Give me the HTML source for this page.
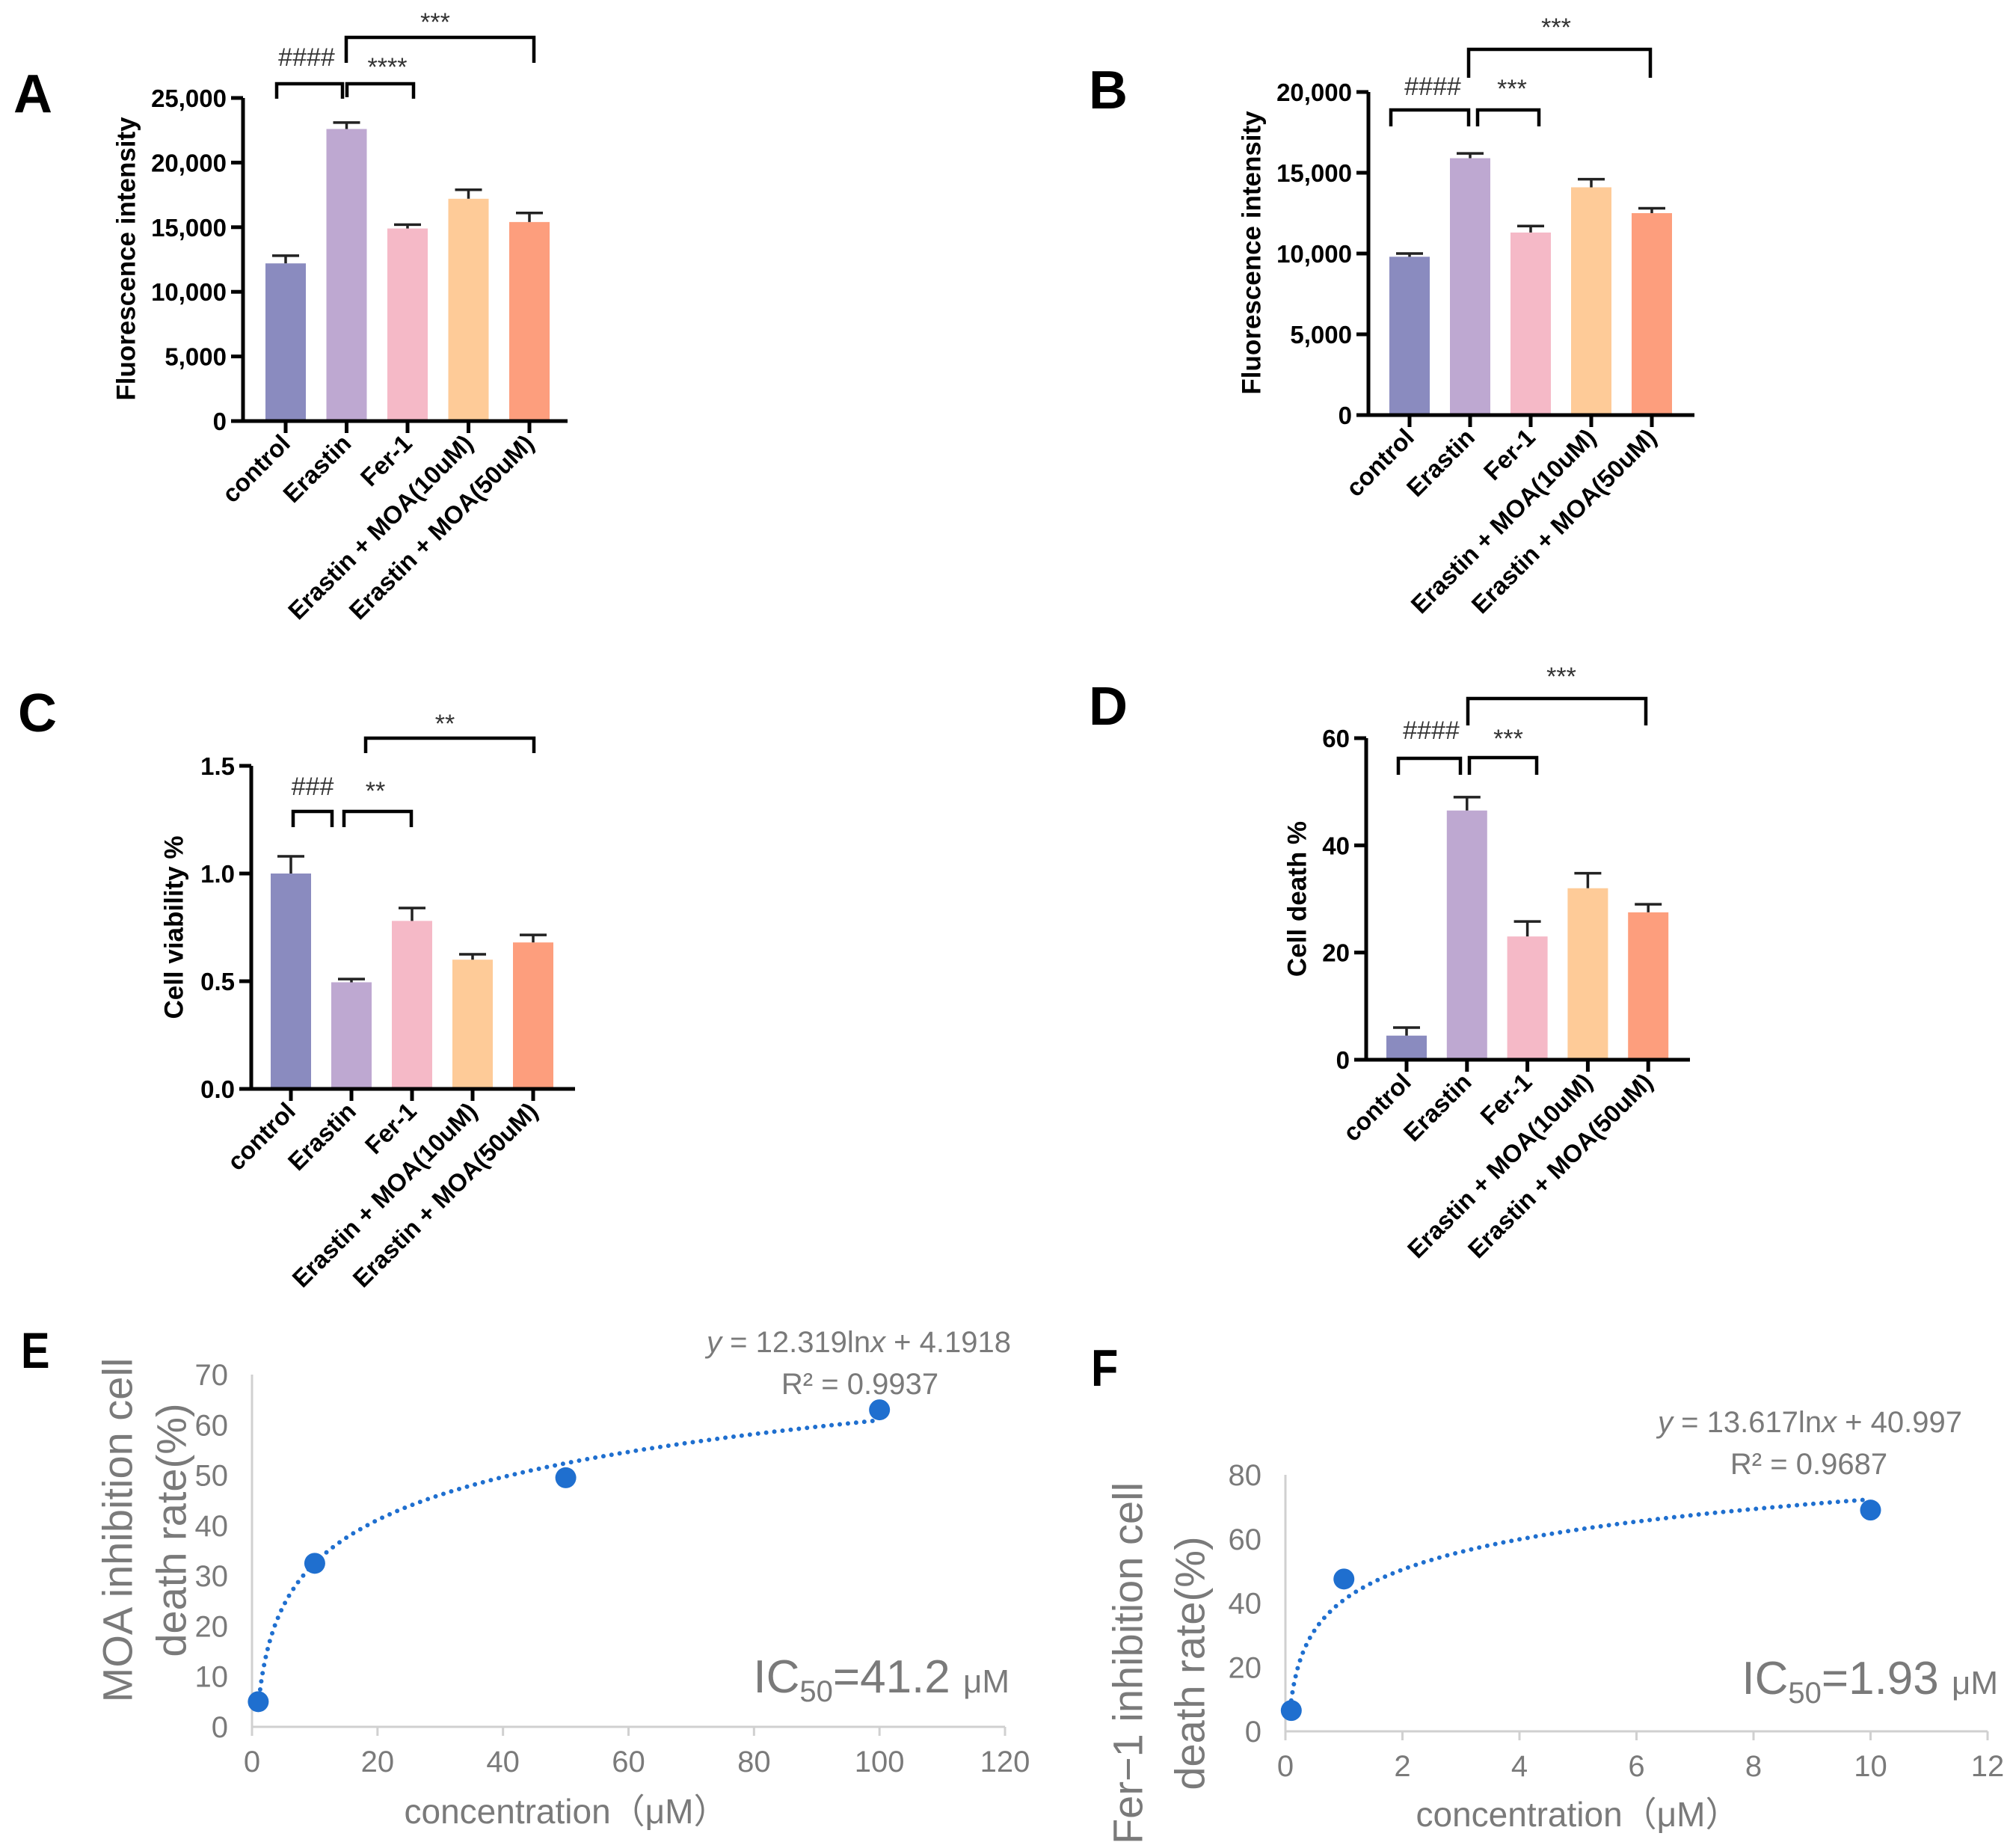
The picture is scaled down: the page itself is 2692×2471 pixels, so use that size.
<!DOCTYPE html>
<html><head><meta charset="utf-8"><style>
html,body{margin:0;padding:0;background:#fff}
svg{display:block}
.b{font-family:"Liberation Sans",Arial,sans-serif;font-weight:bold}
.g{font-family:"Liberation Sans Narrow","Liberation Sans",sans-serif;fill:#7a7a7a}
</style></head><body>
<svg id="fig" xmlns="http://www.w3.org/2000/svg" width="2692" height="2471" viewBox="0 0 2692 2471">
<rect width="2692" height="2471" fill="#fff"/>
<text class="b" x="18" y="150" font-size="72">A</text>
<text class="b" x="1456" y="145" font-size="72">B</text>
<text class="b" x="24" y="978" font-size="72">C</text>
<text class="b" x="1456" y="969" font-size="72">D</text>
<text class="b" x="28" y="1829" font-size="68" transform="scale(0.85,1)" transform-origin="28 1829">E</text>
<text class="b" x="1459" y="1853" font-size="70" transform="scale(0.85,1)" transform-origin="1459 1853">F</text>
</svg>
<script>
const cats=["control","Erastin","Fer-1","Erastin + MOA(10uM)","Erastin + MOA(50uM)"];
const barColors=["#8a8bbf","#bea8d1","#f5b9c7","#fecb98","#fd9e7d"];
const aVals=[12200,22600,14900,17200,15400];
const aErr=[12800,23100,15200,17900,16100];
const aTicks=[0,5000,10000,15000,20000,25000];
const aTickLabels=["0","5,000","10,000","15,000","20,000","25,000"];
const bVals=[9800,15900,11300,14100,12500];
const bErr=[10000,16200,11700,14600,12800];
const bTicks=[0,5000,10000,15000,20000];
const bTickLabels=["0","5,000","10,000","15,000","20,000"];
const cVals=[1.0,0.495,0.78,0.6,0.68];
const cErr=[1.08,0.51,0.84,0.625,0.715];
const cTicks=[0,0.5,1.0,1.5];
const cTickLabels=["0.0","0.5","1.0","1.5"];
const dVals=[4.5,46.5,23,32,27.5];
const dErr=[6,49,25.8,34.8,29];
const dTicks=[0,20,40,60];
const dTickLabels=["0","20","40","60"];
const eX=[1,10,50,100];
const eY=[5,32.5,49.5,63];
const eFit=[12.319,4.1918];
const eXTicks=[0,20,40,60,80,100,120];
const eYTicks=[0,10,20,30,40,50,60,70];
const fX=[0.1,1,10];
const fY=[6.5,47.5,69];
const fFit=[13.617,40.997];
const fXTicks=[0,2,4,6,8,10,12];
const fYTicks=[0,20,40,60,80];

const NS="http://www.w3.org/2000/svg";
const svg=document.getElementById('fig');
function mk(tag,attrs,parent){const e=document.createElementNS(NS,tag);for(const k in attrs)e.setAttribute(k,attrs[k]);(parent||svg).appendChild(e);return e;}

function barPanel(id,L,vals,errs,ticks,labels,title,brackets){
  const g=mk('g',{});
  
  
  const ys=v=>L.y0-(v/L.max)*(L.y0-L.yTop);
  const xs=i=>L.first+i*L.step;
  vals.forEach((v,i)=>{
    const r=mk('rect',{x:xs(i)-27,y:ys(v),width:54,height:L.y0-ys(v),fill:barColors[i]},g);
    
    
    const e=mk('path',{d:`M${xs(i)} ${ys(v)}V${ys(errs[i])}M${xs(i)-18} ${ys(errs[i])}H${xs(i)+18}`,stroke:'#222','stroke-width':3.5,fill:'none'},g);
    
    
    mk('line',{x1:xs(i),y1:L.y0,x2:xs(i),y2:L.y0+16,stroke:'#000','stroke-width':5},g);
    const lb=mk('text',{class:'b',x:xs(i)+8,y:L.y0+32,'font-size':33,'text-anchor':'end',transform:`rotate(-45 ${xs(i)+8} ${L.y0+32})`},g);
    lb.textContent=cats[i];
    
    
  });
  const ax=mk('path',{d:`M${L.ax} ${L.yTop}V${L.y0}H${L.x1}`,stroke:'#000','stroke-width':5,fill:'none'},g);
  
  
  ticks.forEach((t,i)=>{
    mk('line',{x1:L.ax-16,y1:ys(t),x2:L.ax,y2:ys(t),stroke:'#000','stroke-width':5},g);
    const tl=mk('text',{class:'b',x:L.ax-22,y:ys(t)+12,'font-size':33,'text-anchor':'end'},g);
    tl.textContent=labels[i];
    
    
  });
  const tt=mk('text',{class:'b',x:L.tx,y:L.ty,'font-size':35,'text-anchor':'middle',transform:`rotate(-90 ${L.tx} ${L.ty})`,'dominant-baseline':'central'},g);
  tt.textContent=title;
  
  
  brackets.forEach(b=>{
    const p=mk('path',{d:`M${b[0]} ${b[3]}V${b[2]}H${b[1]}V${b[4]}`,stroke:'#000','stroke-width':4.5,fill:'none'},g);
    
    
    const s=mk('text',{x:b[6],y:b[7],'font-size':34,'text-anchor':'middle','dominant-baseline':'central',fill:'#333','font-family':'"Liberation Sans",sans-serif'},g);
    s.textContent=b[5];
    
    
  });
}
barPanel('a',{ax:325,x1:759,y0:563,yTop:131,max:25000,first:382,step:81.5,tx:169,ty:346},aVals,aErr,aTicks,aTickLabels,'Fluorescence intensity',
 [[370,458,112,132,132,'####',410,77],[464,553,112,130,132,'****',518,90],[463,714,50,84,84,'***',582,30]]);
barPanel('b',{ax:1830,x1:2266,y0:555,yTop:123,max:20000,first:1885,step:81,tx:1674,ty:338},bVals,bErr,bTicks,bTickLabels,'Fluorescence intensity',
 [[1860,1964,147,169,169,'####',1916,116],[1976,2058,147,169,169,'***',2022,119],[1964,2207,66,104,104,'***',2081,37]]);
barPanel('c',{ax:336,x1:769,y0:1456,yTop:1024,max:1.5,first:389,step:81,tx:233,ty:1240},cVals,cErr,cTicks,cTickLabels,'Cell viability %',
 [[392,444,1085,1106,1106,'###',418,1052],[460,550,1085,1106,1106,'**',502,1058],[489,714,987,1007,1007,'**',595,968]]);
barPanel('d',{ax:1827,x1:2260,y0:1417,yTop:987,max:60,first:1881,step:80.8,tx:1735,ty:1202},dVals,dErr,dTicks,dTickLabels,'Cell death %',
 [[1870,1953,1014,1036,1036,'####',1914,977],[1965,2055,1013,1036,1036,'***',2017,988],[1963,2201,934,970,970,'***',2088,905]]);

function scatterPanel(id,L,X,Y,fit,xt,yt,t1,t2,eq,r2,ic){
  const g=mk('g',{});
  
  
  const xs=v=>L.x0+(v-xt[0])/(xt[xt.length-1]-xt[0])*(L.x1-L.x0);
  const ys=v=>L.y0-(v-yt[0])/(yt[yt.length-1]-yt[0])*(L.y0-L.yTop);
  const ax=mk('path',{d:`M${L.x0} ${L.yTop}V${L.y0}H${L.x1}`,stroke:'#d0d0d0','stroke-width':3,fill:'none'},g);
  
  
  xt.forEach(t=>{
    mk('line',{x1:xs(t),y1:L.y0,x2:xs(t),y2:L.y0+12,stroke:'#d0d0d0','stroke-width':3},g);
    const tl=mk('text',{class:'g',x:xs(t),y:L.y0+60,'font-size':40,'text-anchor':'middle'},g);
    tl.textContent=t;
    
    
  });
  yt.forEach(t=>{
    const tl=mk('text',{class:'g',x:L.x0-32,y:ys(t)+14,'font-size':40,'text-anchor':'end'},g);
    tl.textContent=t;
    
    
  });
  let d='';
  const xa=X[0],xb=X[X.length-1];
  for(let k=0;k<=400;k++){const xv=xa+(xb-xa)*Math.pow(k/400,2.2);const yv=fit[0]*Math.log(xv)+fit[1];d+=(k?'L':'M')+xs(xv).toFixed(1)+' '+ys(yv).toFixed(1);}
  const tr=mk('path',{d:d,stroke:'#1f6fcf','stroke-width':6,fill:'none','stroke-dasharray':'0 11','stroke-linecap':'round'},g);
  
  
  X.forEach((x,i)=>{
    const c=mk('circle',{cx:xs(x),cy:ys(Y[i]),r:14,fill:'#1f6fcf'},g);
    
    
  });
  const xt1=mk('text',{class:'g',x:L.xtx,y:L.xty,'font-size':46,'text-anchor':'middle'},g);
  xt1.textContent='concentration（μM）';
  
  
  [[t1,L.t1x],[t2,L.t2x]].forEach(p=>{
    const tt=mk('text',{class:'g',x:p[1],y:L.tcy,'font-size':56,'text-anchor':'middle','dominant-baseline':'central',transform:`rotate(-90 ${p[1]} ${L.tcy})`},g);
    tt.textContent=p[0];
    
    
  });
  const e1=mk('text',{class:'g',x:L.eqx,y:L.eqy,'font-size':40,'text-anchor':'end'},g);
  e1.innerHTML='<tspan font-style="italic">y</tspan> = '+eq[0]+'ln<tspan font-style="italic">x</tspan> + '+eq[1];
  
  
  const e2=mk('text',{class:'g',x:L.r2x,y:L.r2y,'font-size':40,'text-anchor':'middle'},g);
  e2.textContent='R² = '+r2;
  
  
  const ic5=mk('text',{class:'g',x:L.icx,y:L.icy,'font-size':62,'text-anchor':'end'},g);
  ic5.innerHTML='IC<tspan font-size="40" dy="12">50</tspan><tspan dy="-12">='+ic+' </tspan><tspan font-size="44">μM</tspan>';
  
  
}
scatterPanel('e',{x0:337,x1:1344,y0:2309,yTop:1838,xtx:757,xty:2438,t1x:157,t2x:229,tcy:2046,eqx:1352,eqy:1808,r2x:1150,r2y:1864,icx:1350,icy:2263},
 eX,eY,eFit,eXTicks,eYTicks,'MOA inhibition cell','death rate(%)',['12.319','4.1918'],'0.9937','41.2');
scatterPanel('f',{x0:1719,x1:2658,y0:2315,yTop:1972,xtx:2110,xty:2442,t1x:1508,t2x:1591,tcy:2224,eqx:2624,eqy:1915,r2x:2419,r2y:1971,icx:2672,icy:2265},
 fX,fY,fFit,fXTicks,fYTicks,'Fer−1 inhibition cell','death rate(%)',['13.617','40.997'],'0.9687','1.93');
</script>
</body></html>
